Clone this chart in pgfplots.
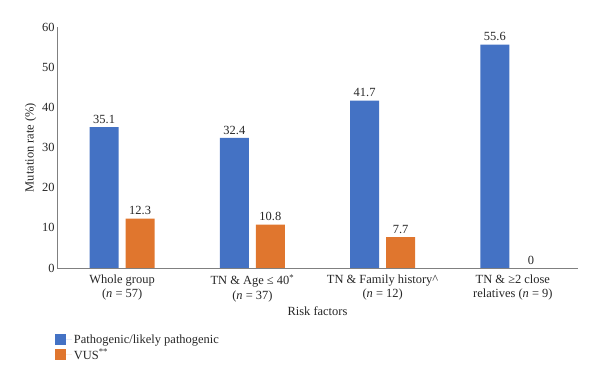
\documentclass[border=0pt]{standalone}
\usepackage{pgfplots}
\pgfplotsset{compat=1.18}
\usepackage{fontspec}
\setmainfont{Liberation Serif}
\definecolor{cblue}{HTML}{4472C4}
\definecolor{corange}{HTML}{E0762E}
\newcommand{\cf}{\fontsize{12.5}{14.5}\selectfont}
\begin{document}
\begin{tikzpicture}
\useasboundingbox (0,0) rectangle (600bp,384bp);
\begin{axis}[
  at={(57bp,116bp)}, anchor=south west,
  scale only axis, width=521bp, height=241bp,
  ybar=7bp, bar width=29bp,
  xmin=-0.5, xmax=3.5, ymin=0, ymax=60,
  xtick={0,1,2,3},
  xticklabels={{Whole group\\(\textit{n} = 57)},{TN \& Age ≤ 40\textsuperscript{*}\\(\textit{n} = 37)},{TN \& Family history\textasciicircum\\(\textit{n} = 12)},{TN \& ≥2 close\\relatives (\textit{n} = 9)}},
  xticklabel style={align=center, font=\cf, text=black!85, yshift=1bp},
  ytick={0,10,...,60},
  yticklabel style={font=\cf, text=black!85, xshift=1bp},
  /pgf/number format/assume math mode=true,
  axis x line*=bottom, axis y line*=left,
  axis line style={draw=gray},
  tick style={draw=none},
  ylabel={Mutation rate (\%)},
  xlabel={Risk factors},
  label style={font=\cf, text=black!85},
  ylabel style={yshift=-1bp},
  xlabel style={yshift=2bp},
  nodes near coords,
  nodes near coords style={font=\cf, text=black!85, /pgf/number format/fixed, /pgf/number format/precision=1},
  legend style={at={(-0.01,-0.26)}, anchor=north west, draw=none, fill=none, row sep=0bp, font=\cf, text=black!85},
  legend cell align=left,
  legend image code/.code={\fill[#1,draw=none] (0bp,-5bp) rectangle (11bp,6bp); \path (0bp,0bp) -- (17bp,0bp);},
]
\addplot[fill=cblue, draw=none] coordinates {(0,35.1) (1,32.4) (2,41.7) (3,55.6)};
\addplot[fill=corange, draw=none] coordinates {(0,12.3) (1,10.8) (2,7.7) (3,0)};
\legend{Pathogenic/likely pathogenic, VUS\textsuperscript{**}}
\end{axis}
\end{tikzpicture}
\end{document}
